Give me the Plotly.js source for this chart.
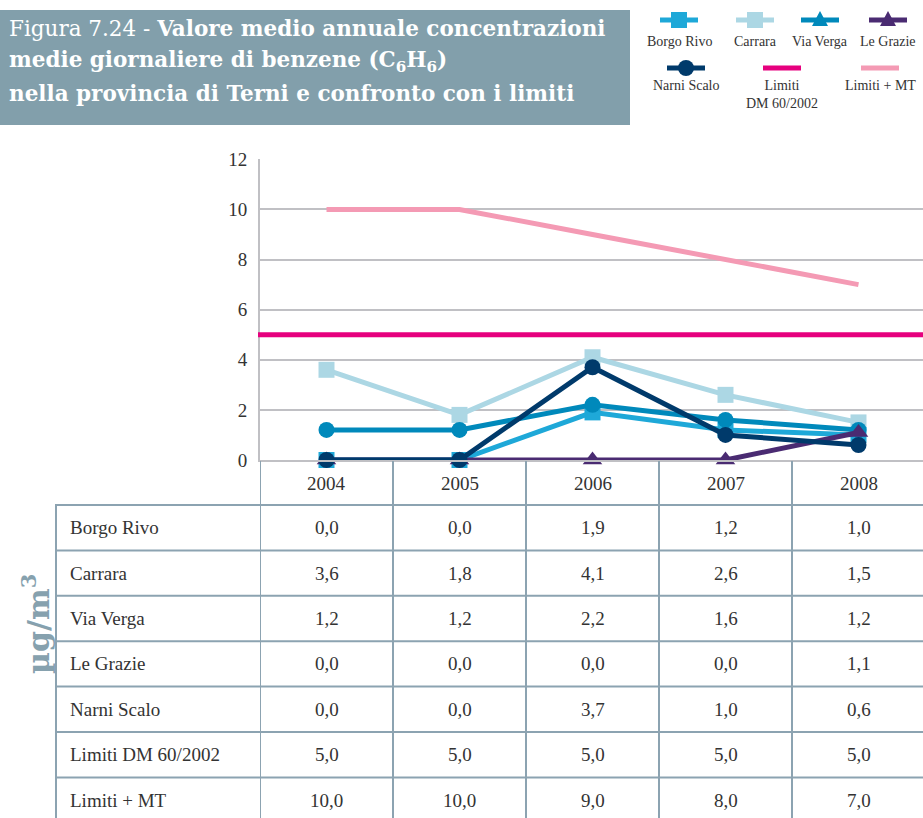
<!DOCTYPE html>
<html><head><meta charset="utf-8">
<script src="https://cdn.plot.ly/plotly-3.0.1.min.js"></script>
<style>html,body{margin:0;padding:0;background:#fff}#chart{width:923px;height:818px}</style>
</head><body><div id="chart"></div>
<script>
// ---- data ----
const years = ['2004', '2005', '2006', '2007', '2008'];
const borgoRivo = [0.0, 0.0, 1.9, 1.2, 1.0];
const carrara = [3.6, 1.8, 4.1, 2.6, 1.5];
const viaVerga = [1.2, 1.2, 2.2, 1.6, 1.2];
const leGrazie = [0.0, 0.0, 0.0, 0.0, 1.1];
const narniScalo = [0.0, 0.0, 3.7, 1.0, 0.6];
const limitiDM = [5.0, 5.0, 5.0, 5.0, 5.0];
const limitiMT = [10.0, 10.0, 9.0, 8.0, 7.0];
const seriesNames = ['Borgo Rivo', 'Carrara', 'Via Verga', 'Le Grazie', 'Narni Scalo', 'Limiti DM 60/2002', 'Limiti + MT'];
const yTicks = [0, 2, 4, 6, 8, 10, 12];
const titleLines = [
  'Figura 7.24 - <b>Valore medio annuale concentrazioni</b>',
  '<b>medie giornaliere di benzene (C<sub>6</sub>H<sub>6</sub>)</b>',
  '<b>nella provincia di Terni e confronto con i limiti</b>'
];
const yLabel = '\u00b5g/m<sup>3</sup>';

// ---- styling ----
const W = 923, H = 818;
const px = x => x / W;
const py = y => 1 - y / H;
const C = {
  borgo: '#1ea8d8', carrara: '#acd7e4', verga: '#0089bb', grazie: '#4a2b72',
  narni: '#003a6b', dm: '#e6007e', mt: '#f49ab4',
  grid: '#c0c0c4', table: '#8ca3b1', titleBg: '#829fab', text: '#333333', ylab: '#86a1ae'
};
const SERIF = 'Liberation Serif, Times New Roman, serif';
const SLAB = 'DejaVu Serif, serif';

const tableData = [borgoRivo, carrara, viaVerga, leGrazie, narniScalo, limitiDM, limitiMT];

function series(name, y, color, symbol, size) {
  const t = {
    type: 'scatter', x: years, y: y, name: name,
    mode: symbol ? 'lines+markers' : 'lines',
    line: {color: color, width: 5},
    cliponaxis: false, hoverinfo: 'skip', showlegend: false
  };
  if (symbol) t.marker = {symbol: symbol, size: size, color: color, line: {width: 0}};
  return t;
}

const traces = [
  series(seriesNames[6], limitiMT, C.mt),
  series(seriesNames[1], carrara, C.carrara, 'square', 16),
  series(seriesNames[0], borgoRivo, C.borgo, 'square', 16),
  series(seriesNames[2], viaVerga, C.verga, 'circle', 16),
  series(seriesNames[3], leGrazie, C.grazie, 'triangle-up', 17),
  series(seriesNames[4], narniScalo, C.narni, 'circle', 16)
];

const shapes = [];
const annotations = [];

// title box
shapes.push({type: 'rect', xref: 'paper', yref: 'paper', x0: px(0), x1: px(630), y0: py(125), y1: py(10),
  fillcolor: C.titleBg, line: {width: 0}, layer: 'below'});
const titleY = [29, 61, 93];
titleLines.forEach((t, i) => annotations.push({
  xref: 'paper', yref: 'paper', x: px(7), y: py(titleY[i]), xanchor: 'left', yanchor: 'middle',
  text: t, showarrow: false, font: {family: SLAB, size: 21.5, color: '#ffffff'}
}));

// limit line DM (horizontal across plot)
shapes.push({type: 'line', xref: 'paper', yref: 'y', x0: px(258), x1: 1, y0: limitiDM[0], y1: limitiDM[0],
  line: {color: C.dm, width: 5}, layer: 'above'});

// table lines
const rowTop = 505, rowH = 45.4;
for (let i = 0; i <= 7; i++) {
  const yy = rowTop + i * rowH;
  shapes.push({type: 'line', xref: 'paper', yref: 'paper', x0: px(55), x1: 1, y0: py(yy), y1: py(yy),
    line: {color: C.table, width: 2}});
}
shapes.push({type: 'line', xref: 'paper', yref: 'paper', x0: px(56), x1: px(56), y0: py(rowTop), y1: 0,
  line: {color: C.table, width: 2}});
for (let j = 0; j < years.length; j++) {
  shapes.push({type: 'line', xref: 'x', yref: 'paper', x0: j - 0.5, x1: j - 0.5, y0: py(461), y1: 0,
    line: {color: C.table, width: 2}});
}

// header years (x = category index on the x axis)
years.forEach((yr, j) => annotations.push({
  xref: 'x', yref: 'paper', x: j, y: py(484), xanchor: 'center', yanchor: 'middle',
  text: yr, showarrow: false, font: {family: SERIF, size: 19, color: C.text}
}));

// rows
tableData.forEach((vals, i) => {
  const cy = rowTop + i * rowH + rowH / 2;
  annotations.push({
    xref: 'paper', yref: 'paper', x: px(68), y: py(cy), xanchor: 'left', yanchor: 'middle',
    text: seriesNames[i], showarrow: false, font: {family: SERIF, size: 19, color: C.text}
  });
  vals.forEach((v, j) => annotations.push({
    xref: 'x', yref: 'paper', x: j, y: py(cy), xanchor: 'center', yanchor: 'middle',
    text: v.toFixed(1).replace('.', ','), showarrow: false, font: {family: SERIF, size: 19, color: C.text}
  }));
});

// y axis label
annotations.push({
  xref: 'paper', yref: 'paper', x: px(36), y: py(624), xanchor: 'center', yanchor: 'middle',
  text: '<b>' + yLabel + '</b>', textangle: -90, showarrow: false,
  font: {family: SLAB, size: 30, color: C.ylab}
});

// legend (custom: symbol above label)
const legendItems = [
  {i: 0, color: C.borgo, sym: 'square', cx: 679, cy: 20, ly: 41},
  {i: 1, color: C.carrara, sym: 'square', cx: 755, cy: 20, ly: 41},
  {i: 2, color: C.verga, sym: 'triangle', cx: 820, cy: 20, ly: 41},
  {i: 3, color: C.grazie, sym: 'triangle', cx: 888, cy: 20, ly: 41},
  {i: 4, color: C.narni, sym: 'circle', cx: 686, cy: 68, ly: 86},
  {i: 5, color: C.dm, sym: null, cx: 782, cy: 68, ly: 94},
  {i: 6, color: C.mt, sym: null, cx: 880, cy: 68, ly: 86}
];
legendItems.forEach(it => {
  shapes.push({type: 'line', xref: 'paper', yref: 'paper', x0: px(it.cx - 19), x1: px(it.cx + 19),
    y0: py(it.cy), y1: py(it.cy), line: {color: it.color, width: 5}});
  if (it.sym === 'square') {
    shapes.push({type: 'rect', xref: 'paper', yref: 'paper', x0: px(it.cx - 8), x1: px(it.cx + 8),
      y0: py(it.cy + 8), y1: py(it.cy - 8), fillcolor: it.color, line: {width: 0}});
  } else if (it.sym === 'circle') {
    shapes.push({type: 'circle', xref: 'paper', yref: 'paper', x0: px(it.cx - 8), x1: px(it.cx + 8),
      y0: py(it.cy + 8), y1: py(it.cy - 8), fillcolor: it.color, line: {width: 0}});
  } else if (it.sym === 'triangle') {
    shapes.push({type: 'path', xref: 'paper', yref: 'paper',
      path: 'M ' + px(it.cx - 8) + ',' + py(it.cy + 6) + ' L ' + px(it.cx + 8) + ',' + py(it.cy + 6) +
            ' L ' + px(it.cx) + ',' + py(it.cy - 9) + ' Z',
      fillcolor: it.color, line: {width: 0}});
  }
  const label = it.i === 5 ? 'Limiti<br>DM 60/2002' : seriesNames[it.i];
  annotations.push({
    xref: 'paper', yref: 'paper', x: px(it.cx), y: py(it.ly), xanchor: 'center', yanchor: 'middle',
    text: label, showarrow: false, font: {family: SERIF, size: 14, color: C.text}
  });
});

const layout = {
  width: W, height: H,
  margin: {l: 0, r: 0, t: 0, b: 0},
  paper_bgcolor: '#ffffff', plot_bgcolor: '#ffffff',
  showlegend: false,
  xaxis: {
    type: 'category', domain: [px(260), 1], range: [-0.5, 4.485],
    showgrid: false, zeroline: false, showticklabels: false, ticks: '',
    showline: true, linecolor: C.grid, linewidth: 2, fixedrange: true
  },
  yaxis: {
    domain: [py(460), py(159.3)], range: [0, 12],
    tickvals: yTicks, ticktext: yTicks.map(String),
    tickfont: {family: SERIF, size: 19, color: C.text},
    ticks: 'outside', ticklen: 7, tickcolor: 'rgba(0,0,0,0)',
    showgrid: true, gridcolor: C.grid, gridwidth: 2, zeroline: false,
    showline: true, linecolor: C.grid, linewidth: 2, fixedrange: true
  },
  shapes: shapes,
  annotations: annotations
};

Plotly.newPlot('chart', traces, layout, {staticPlot: true, displayModeBar: false});
</script>
</body></html>
